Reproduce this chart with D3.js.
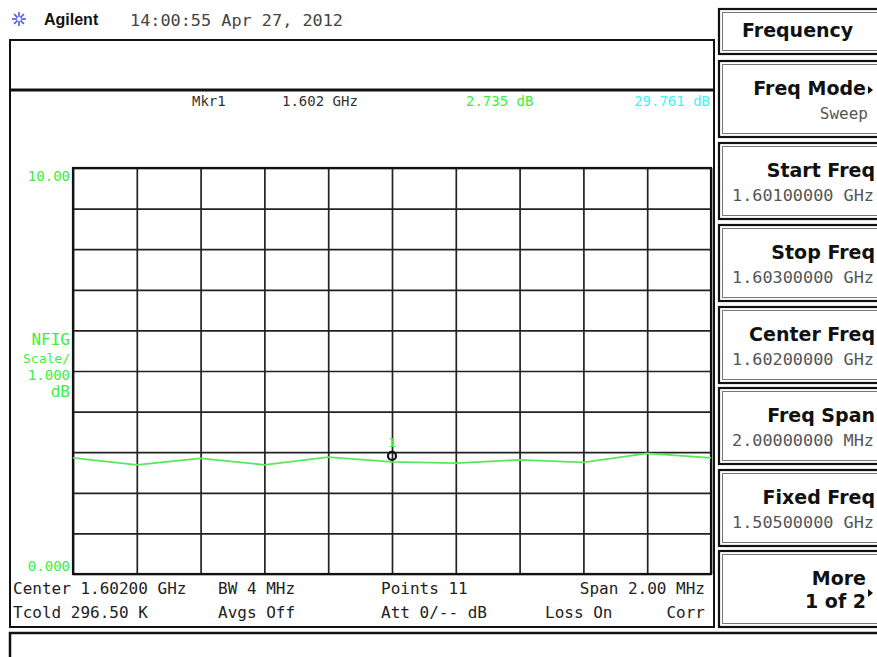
<!DOCTYPE html>
<html>
<head>
<meta charset="utf-8">
<script src="https://cdn.jsdelivr.net/npm/d3@7/dist/d3.min.js"></script>
<style>
  body { margin: 0; background: #fff; }
  svg { display: block; }
  .grid line { stroke: #222; stroke-width: 1.7; }
  .grid path { display: none; }
  .mono { font-family: "DejaVu Sans Mono", monospace; }
  .key { font-family: "DejaVu Sans", sans-serif; font-weight: bold; fill: #111; }
</style>
</head>
<body>
<div id="chart"></div>
<script>
// sweep points (GHz) and noise figure readings (dB)
const freqs = [1.6010, 1.6012, 1.6014, 1.6016, 1.6018, 1.6020, 1.6022, 1.6024, 1.6026, 1.6028, 1.6030]
const nfig = [2.86, 2.69, 2.85, 2.69, 2.88, 2.76, 2.73, 2.81, 2.75, 2.97, 2.86]
const yDomain = [0, 10]
const yTickLabels = ['0.000', '10.00']
const marker = { label: '1', freq: 1.602, value: 2.735 }
const markerLine = ['Mkr1', '1.602 GHz', '2.735 dB', '29.761 dB']
const statusRow1 = ['Center 1.60200 GHz', 'BW 4 MHz', 'Points 11', 'Span 2.00 MHz']
const statusRow2 = ['Tcold 296.50 K', 'Avgs Off', 'Att 0/-- dB', 'Loss On', 'Corr']
const softTitle = 'Frequency'
const softLabels = ['Freq Mode', 'Start Freq', 'Stop Freq', 'Center Freq', 'Freq Span', 'Fixed Freq', 'More']
const softValues = ['Sweep', '1.60100000 GHz', '1.60300000 GHz', '1.60200000 GHz', '2.00000000 MHz', '1.50500000 GHz', '1 of 2']

const W = 877, H = 657
let plot = { left: 73, right: 711, top: 168, bottom: 574 }
const green = '#3cf03c'

let svg = d3.select('#chart').append('svg')
    .attr('width', W)
    .attr('height', H)

svg.append('rect').attr('width', W).attr('height', H).attr('fill', '#fff')

// header
let logo = svg.append('g').attr('transform', 'translate(19,19)')
for (let i = 0; i < 8; i++) {
    let a = i * Math.PI / 4
    logo.append('line')
        .attr('x1', Math.cos(a) * 2).attr('y1', Math.sin(a) * 2)
        .attr('x2', Math.cos(a) * 7).attr('y2', Math.sin(a) * 7)
        .attr('stroke', '#4a5ae8').attr('stroke-width', 1.6)
}
svg.append('text').attr('x', 44).attr('y', 25)
    .attr('font-family', 'Liberation Sans, Arial, sans-serif').attr('font-weight', 'bold')
    .attr('font-size', 16).attr('fill', '#111').text('Agilent')
svg.append('text').attr('class', 'mono').attr('x', 130).attr('y', 26)
    .attr('font-size', 16).attr('fill', '#444')
    .attr('textLength', 213).attr('lengthAdjust', 'spacingAndGlyphs')
    .text('14:00:55  Apr 27, 2012')

// left panel frames
svg.append('rect').attr('x', 10).attr('y', 40).attr('width', 704).attr('height', 587)
    .attr('fill', 'none').attr('stroke', '#111').attr('stroke-width', 2)
svg.append('line').attr('x1', 10).attr('x2', 714).attr('y1', 90).attr('y2', 90)
    .attr('stroke', '#111').attr('stroke-width', 3)
svg.append('rect').attr('x', 10).attr('y', 633).attr('width', 880).attr('height', 40)
    .attr('fill', 'none').attr('stroke', '#111').attr('stroke-width', 2.5)

// marker readout
let mx = [192, 282, 466, 710]
markerLine.forEach((t, i) => {
    svg.append('text').attr('class', 'mono')
        .attr('x', mx[i]).attr('y', 106)
        .attr('font-size', 14)
        .attr('text-anchor', i === 3 ? 'end' : 'start')
        .attr('fill', i === 2 ? green : i === 3 ? '#3ef4f4' : '#333')
        .text(t)
})

// scales
let xScale = d3.scaleLinear().domain([freqs[0], freqs[freqs.length - 1]]).range([plot.left, plot.right])
let yScale = d3.scaleLinear().domain(yDomain).range([plot.bottom, plot.top])

svg.append('g').attr('class', 'grid')
    .attr('transform', 'translate(0,' + plot.bottom + ')')
    .call(d3.axisBottom(xScale).tickValues(freqs).tickSize(plot.top - plot.bottom).tickFormat(''))
svg.append('g').attr('class', 'grid')
    .attr('transform', 'translate(' + plot.left + ',0)')
    .call(d3.axisLeft(yScale).ticks(10).tickSize(plot.left - plot.right).tickFormat(''))

svg.append('rect')
    .attr('x', plot.left).attr('y', plot.top)
    .attr('width', plot.right - plot.left).attr('height', plot.bottom - plot.top)
    .attr('fill', 'none').attr('stroke', '#111').attr('stroke-width', 2.2)
svg.append('line').attr('x1', 714).attr('x2', 714).attr('y1', plot.top - 2).attr('y2', 627)
    .attr('stroke', '#111').attr('stroke-width', 2)

// y labels
svg.append('text').attr('class', 'mono').attr('x', 70).attr('y', yScale(10) + 13)
    .attr('text-anchor', 'end').attr('font-size', 14).attr('fill', green).text(yTickLabels[1])
svg.append('text').attr('class', 'mono').attr('x', 70).attr('y', yScale(0) - 3)
    .attr('text-anchor', 'end').attr('font-size', 14).attr('fill', green).text(yTickLabels[0])
let scaleLbl = [['NFIG', 345, 16], ['Scale/', 363, 13], ['1.000', 380, 14], ['dB', 397, 16]]
scaleLbl.forEach(d => {
    svg.append('text').attr('class', 'mono').attr('x', 70).attr('y', d[1])
        .attr('text-anchor', 'end').attr('font-size', d[2]).attr('fill', green).text(d[0])
})

// trace
let line = d3.line()
    .x((d, i) => xScale(freqs[i]))
    .y(d => yScale(d))
svg.append('path').datum(nfig)
    .attr('d', line)
    .attr('fill', 'none')
    .attr('stroke', '#5ae85a')
    .attr('stroke-width', 1.8)

// marker
let mkX = xScale(marker.freq), mkY = yScale(nfig[5]) - 6
svg.append('circle').attr('cx', mkX).attr('cy', mkY).attr('r', 4)
    .attr('fill', 'none').attr('stroke', '#111').attr('stroke-width', 2.2)
svg.append('text').attr('class', 'mono').attr('x', mkX).attr('y', mkY - 9)
    .attr('text-anchor', 'middle').attr('font-size', 13).attr('fill', green).text(marker.label)

// status rows
let sx1 = [13, 218, 381, 705]
statusRow1.forEach((t, i) => {
    svg.append('text').attr('class', 'mono').attr('x', sx1[i]).attr('y', 594)
        .attr('font-size', 16).attr('fill', '#222')
        .attr('text-anchor', i === 3 ? 'end' : 'start').text(t)
})
let sx2 = [13, 218, 381, 545, 705]
statusRow2.forEach((t, i) => {
    svg.append('text').attr('class', 'mono').attr('x', sx2[i]).attr('y', 618)
        .attr('font-size', 16).attr('fill', '#222')
        .attr('text-anchor', i === 4 ? 'end' : 'start').text(t)
})

// softkeys
function keyBox(y0, y1) {
    svg.append('rect').attr('x', 719).attr('y', y0).attr('width', 180).attr('height', y1 - y0)
        .attr('fill', '#fff').attr('stroke', '#111').attr('stroke-width', 2.2)
    svg.append('rect').attr('x', 722.5).attr('y', y0 + 3.5).attr('width', 180).attr('height', y1 - y0 - 7)
        .attr('fill', 'none').attr('stroke', '#777').attr('stroke-width', 1)
}
keyBox(9, 54)
svg.append('text').attr('class', 'key').attr('x', 742).attr('y', 37)
    .attr('font-size', 19).text(softTitle)

let keyTops = [61, 143, 225, 307, 388, 470, 551]
softLabels.forEach((t, i) => {
    let y0 = keyTops[i]
    keyBox(y0, y0 + 76)
    let arrow = i === 0 || i === 6
    let xr = arrow ? 866 : 875
    svg.append('text').attr('class', 'key').attr('x', xr).attr('y', y0 + 34)
        .attr('text-anchor', 'end').attr('font-size', 19).text(t)
    if (i === 6) {
        svg.append('text').attr('class', 'key').attr('x', xr).attr('y', y0 + 57)
            .attr('text-anchor', 'end').attr('font-size', 19).text(softValues[i])
    } else if (i === 0) {
        svg.append('text').attr('class', 'mono').attr('x', xr + 2).attr('y', y0 + 58)
            .attr('text-anchor', 'end').attr('font-size', 16).attr('fill', '#555').text(softValues[i])
    } else {
        svg.append('text').attr('class', 'mono').attr('x', 732).attr('y', y0 + 58)
            .attr('font-size', 16).attr('fill', '#555')
            .attr('textLength', 142).attr('lengthAdjust', 'spacingAndGlyphs').text(softValues[i])
    }
    if (arrow) {
        let ay = i === 0 ? y0 + 33 : y0 + 46
        svg.append('path').attr('d', `M${xr + 2},${ay - 8}L${xr + 7},${ay - 4}L${xr + 2},${ay}Z`)
            .attr('fill', '#111')
    }
})
</script>
</body>
</html>
